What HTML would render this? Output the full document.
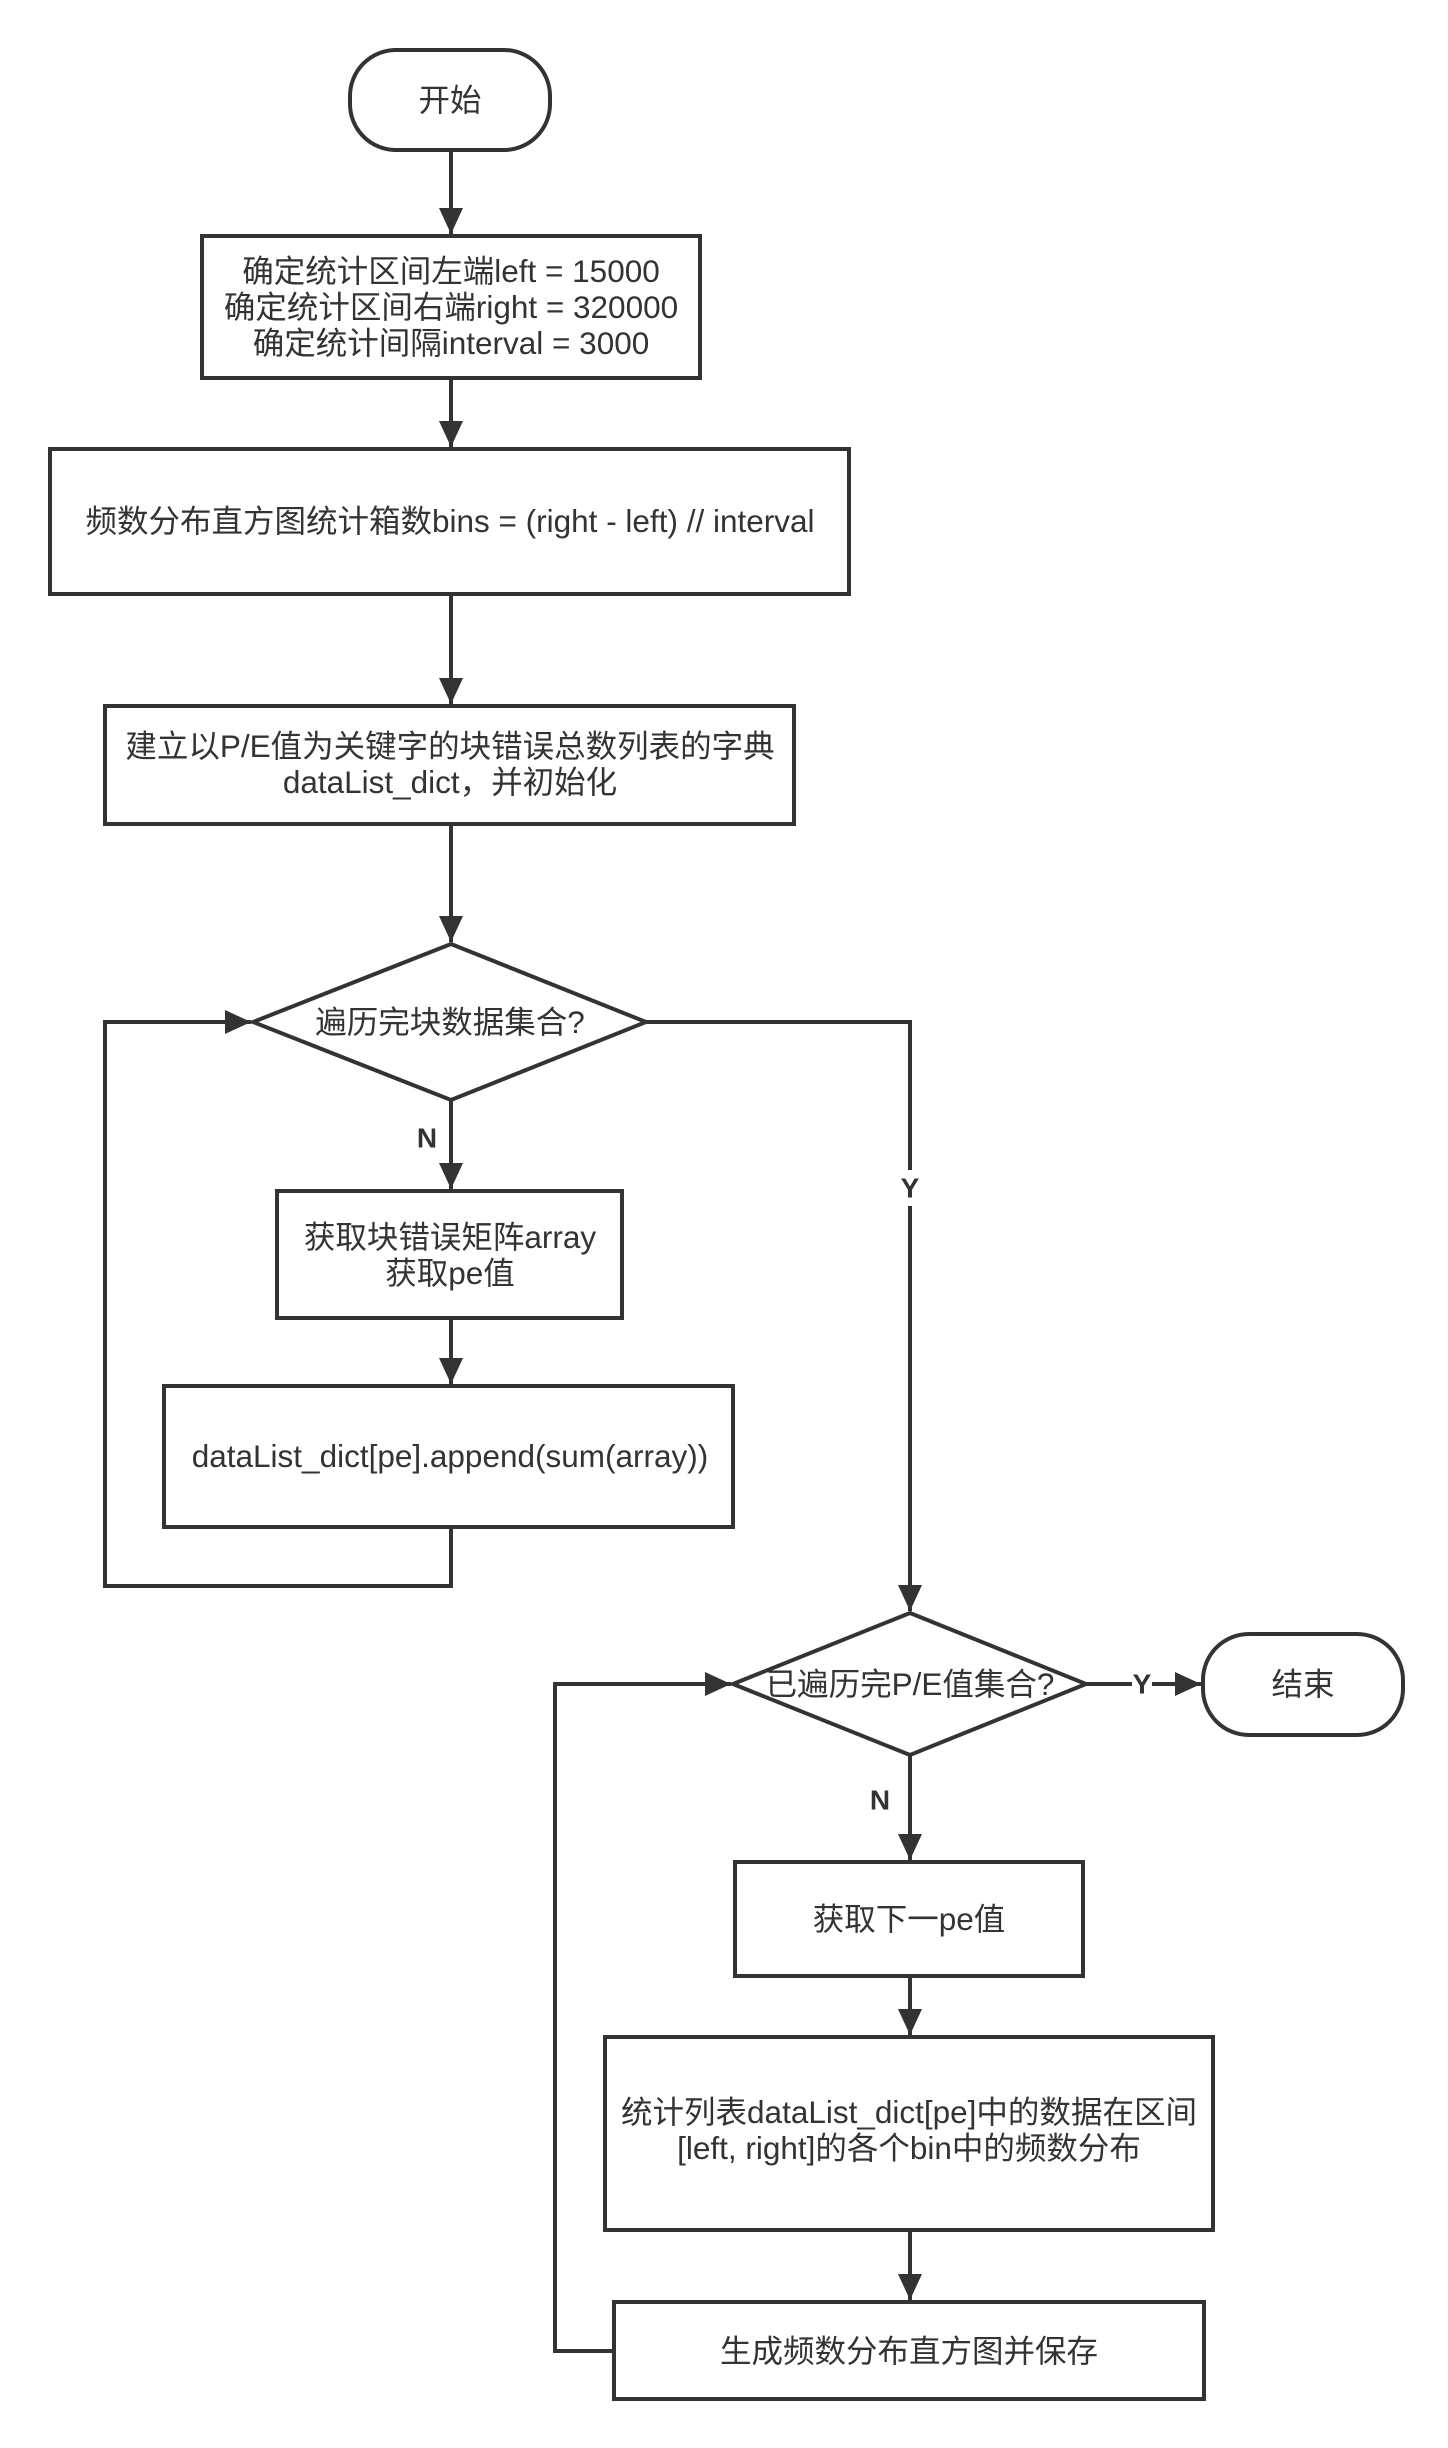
<!DOCTYPE html>
<html><head><meta charset="utf-8"><style>
html,body{margin:0;padding:0;background:#fff;}
svg{display:block;}
text{font-family:"Liberation Sans","Noto Sans CJK SC",sans-serif;font-size:31.5px;fill:#333;text-anchor:middle;dominant-baseline:central;}
.b{font-weight:bold;font-size:28px;}
</style></head><body>
<svg width="1448" height="2448" viewBox="0 0 1448 2448" xmlns="http://www.w3.org/2000/svg">
<defs>
<marker id="ar" viewBox="0 0 26 24" refX="26" refY="12" markerWidth="26" markerHeight="24" orient="auto" markerUnits="userSpaceOnUse"><path d="M0,0 L26,12 L0,24 z" fill="#333"/></marker></defs>
<g fill="#fff" stroke="#333" stroke-width="4">
<rect x="350" y="50" width="200" height="100" rx="46"/>
<rect x="202" y="236" width="498" height="142"/>
<rect x="50" y="449" width="799" height="145"/>
<rect x="105" y="706" width="689" height="118"/>
<polygon points="451,944 646,1022 451,1100 253,1022"/>
<rect x="277" y="1191" width="345" height="127"/>
<rect x="164" y="1386" width="569" height="141"/>
<polygon points="910,1613 1086,1684 910,1755 733,1684"/>
<rect x="1203" y="1634" width="200" height="101" rx="46"/>
<rect x="735" y="1862" width="348" height="114"/>
<rect x="605" y="2037" width="608" height="193"/>
<rect x="614" y="2302" width="590" height="97"/>
</g>
<g fill="none" stroke="#333" stroke-width="4" marker-end="url(#ar)">
<line x1="451" y1="150" x2="451" y2="234"/>
<line x1="451" y1="378" x2="451" y2="447"/>
<line x1="451" y1="594" x2="451" y2="704"/>
<line x1="451" y1="824" x2="451" y2="942"/>
<line x1="451" y1="1100" x2="451" y2="1189"/>
<line x1="451" y1="1318" x2="451" y2="1384"/>
<polyline points="451,1527 451,1586 105,1586 105,1022 251,1022"/>
<polyline points="646,1022 910,1022 910,1611"/>
<line x1="1086" y1="1684" x2="1201" y2="1684"/>
<line x1="910" y1="1755" x2="910" y2="1860"/>
<line x1="910" y1="1976" x2="910" y2="2035"/>
<line x1="910" y1="2230" x2="910" y2="2300"/>
<polyline points="614,2351 555,2351 555,1684 731,1684"/>
</g>
<rect x="897" y="1170" width="26" height="36" fill="#fff"/>
<rect x="1132" y="1668" width="20" height="32" fill="#fff"/>
<text x="450" y="100">开始</text>
<text x="451" y="271">确定统计区间左端left = 15000</text>
<text x="451" y="307">确定统计区间右端right = 320000</text>
<text x="451" y="343">确定统计间隔interval = 3000</text>
<text x="450" y="521">频数分布直方图统计箱数bins = (right - left) // interval</text>
<text x="450" y="746">建立以P/E值为关键字的块错误总数列表的字典</text>
<text x="450" y="782">dataList_dict，并初始化</text>
<text x="450" y="1022">遍历完块数据集合?</text>
<text class="b" x="427" y="1138">N</text>
<text x="450" y="1237">获取块错误矩阵array</text>
<text x="450" y="1273">获取pe值</text>
<text x="450" y="1456">dataList_dict[pe].append(sum(array))</text>
<text class="b" x="910" y="1188">Y</text>
<text x="910" y="1684">已遍历完P/E值集合?</text>
<text class="b" x="1142" y="1684">Y</text>
<text x="1303" y="1684">结束</text>
<text class="b" x="880" y="1800">N</text>
<text x="909" y="1919">获取下一pe值</text>
<text x="909" y="2112">统计列表dataList_dict[pe]中的数据在区间</text>
<text x="909" y="2148">[left, right]的各个bin中的频数分布</text>
<text x="909" y="2351">生成频数分布直方图并保存</text>
</svg>
</body></html>
